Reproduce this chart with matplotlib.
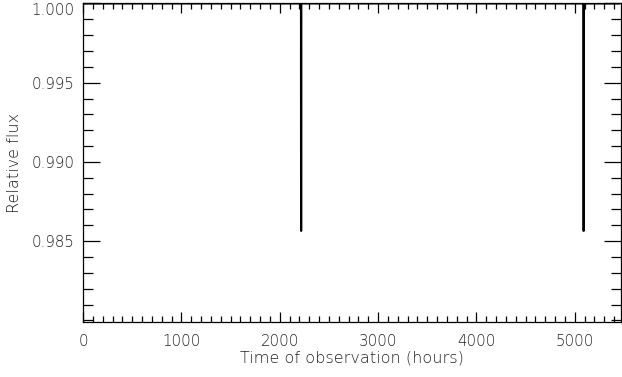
import numpy as np
import matplotlib
matplotlib.use("Agg")
import matplotlib.pyplot as plt
from matplotlib.ticker import MultipleLocator

# light curve samples (hours, relative flux)
time_hours = [0, 2216, 2217, 2219, 2220, 5088, 5089, 5091, 5092, 5460]
rel_flux = [1.0, 1.0, 0.98565, 0.98565, 1.0, 1.0, 0.98565, 0.98565, 1.0, 1.0]

x_major = [0, 1000, 2000, 3000, 4000, 5000]
y_major = [0.985, 0.990, 0.995, 1.000]

plt.rcParams["font.family"] = ["DejaVu Sans"]

fig = plt.figure(figsize=(6.22, 3.77), dpi=100)
ax = fig.add_axes([83 / 622, 1 - 322 / 377, 538 / 622, 319 / 377])

ax.plot(time_hours, rel_flux, color="black", lw=1.5, solid_capstyle="butt",
        zorder=1)

ax.set_xlim(0, 5470)
ax.set_ylim(0.9799, 1.00003)
ax.set_xticks(x_major)
ax.set_yticks(y_major)
ax.set_yticklabels([f"{v:.3f}" for v in y_major])
ax.xaxis.set_minor_locator(MultipleLocator(100))
ax.yaxis.set_minor_locator(MultipleLocator(0.001))

ax.tick_params(axis="both", which="both", direction="in", top=True, right=True,
               width=0.9, colors="black", labelcolor="#222222", labelsize=10.8)
ax.tick_params(axis="x", which="major", length=7, pad=9)
ax.tick_params(axis="x", which="minor", length=4)
ax.tick_params(axis="y", which="major", length=12, pad=6)
ax.tick_params(axis="y", which="minor", length=7)

for s in ax.spines.values():
    s.set_linewidth(0.9)
    s.set_zorder(3)

for lab in ax.get_xticklabels() + ax.get_yticklabels():
    lab.set_fontweight("light")
# top label sits just below the frame edge, as in the original
ax.get_yticklabels()[-1].set_verticalalignment("top")

ax.set_xlabel("Time of observation (hours)", fontsize=11.6, color="#222222",
              fontweight="light", labelpad=1)
ax.set_ylabel("Relative flux", fontsize=11.6, color="#222222",
              fontweight="light", labelpad=7)

fig.savefig("out.png", dpi=100)
